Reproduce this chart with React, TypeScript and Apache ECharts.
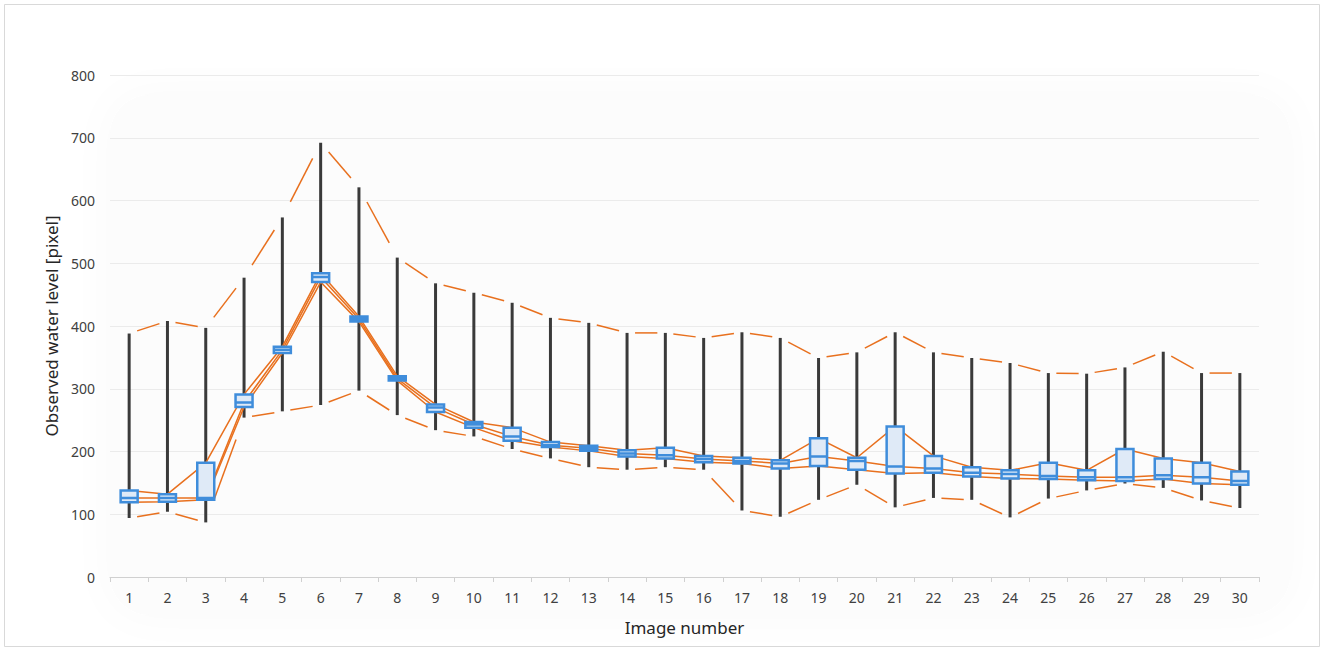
import React, { useEffect, useRef } from "react";
import * as echarts from "echarts";

const categories = Array.from({ length: 30 }, (_, i) => String(i + 1));
const maxVals = [388, 408, 397, 477, 573, 692, 621, 509, 468, 453, 437, 413, 405, 389, 389, 381, 390, 381, 349, 358, 390, 358, 349, 341, 325, 324, 334, 359, 325, 325];
const q3Vals = [138, 132, 182, 291, 367, 484, 415, 320, 275, 247, 238, 215, 209, 202, 206, 193, 190, 186, 221, 190, 240, 193, 175, 170, 182, 170, 204, 189, 182, 168];
const medVals = [126, 126, 126, 278, 362, 478, 411, 316, 270, 243, 224, 210, 205, 197, 194, 188, 185, 181, 192, 185, 176, 173, 166, 164, 161, 159, 159, 162, 159, 153];
const q1Vals = [119, 120, 123, 271, 357, 470, 407, 313, 263, 238, 217, 207, 201, 192, 189, 183, 181, 173, 177, 171, 165, 166, 160, 157, 156, 154, 153, 156, 149, 147];
const minVals = [94, 104, 87, 254, 264, 274, 297, 258, 234, 224, 204, 189, 175, 171, 175, 171, 106, 96, 123, 147, 111, 126, 123, 95, 125, 138, 149, 142, 122, 110];
const yTicks = { min: 0, max: 800, interval: 100 };

const ORANGE = "#E8701E";
const FONT = "'Noto Sans', 'Open Sans', sans-serif";

export default function App() {
  const ref = useRef<HTMLDivElement>(null);
  useEffect(() => {
    if (!ref.current) return;
    const chart = echarts.init(ref.current, null, { renderer: "svg" });
    const boxData = categories.map((_, i) => [q1Vals[i], q1Vals[i], medVals[i], q3Vals[i], q3Vals[i]]);
    const whiskerData = categories.map((_, i) => [i, minVals[i], maxVals[i]]);
    const segData = (arr: number[]) => arr.slice(0, -1).map((v, i) => [i, v, arr[i + 1]]);
    const gapSeries = (name: string, arr: number[]) => ({
      type: "custom",
      name,
      z: 3,
      encode: { x: 0, y: [1, 2] },
      data: segData(arr),
      renderItem: (params: any, api: any) => {
        const i = api.value(0);
        const p1 = api.coord([i, api.value(1)]);
        const p2 = api.coord([i + 1, api.value(2)]);
        const gap = 8;
        const dx = p2[0] - p1[0];
        const t = dx > 0 ? gap / dx : 0;
        return {
          type: "line",
          shape: {
            x1: p1[0] + t * dx,
            y1: p1[1] + t * (p2[1] - p1[1]),
            x2: p2[0] - t * dx,
            y2: p2[1] - t * (p2[1] - p1[1]),
          },
          style: { stroke: ORANGE, lineWidth: 1.5 },
        };
      },
    });
    const lineSeries = (name: string, arr: number[]) => ({
      type: "line",
      name,
      z: 3,
      data: arr,
      symbol: "none",
      lineStyle: { color: ORANGE, width: 1.5 },
    });
    chart.setOption({
      animation: false,
      backgroundColor: "#ffffff",
      graphic: [
        {
          type: "rect",
          z: -10,
          shape: { x: 4.5, y: 4.5, width: 1315, height: 642 },
          style: { fill: "#ffffff", stroke: "#d9d9d9", lineWidth: 1 },
        },
        {
          type: "rect",
          z: -9,
          shape: { x: 110, y: 95, width: 1180, height: 520, r: 40 },
          style: { fill: "#fcfcfc", shadowBlur: 40, shadowColor: "rgba(0,0,0,0.025)" },
        },
      ],
      grid: { left: 110, right: 66, top: 75, bottom: 75, containLabel: false },
      xAxis: {
        type: "category",
        data: categories,
        boundaryGap: true,
        name: "Image number",
        nameLocation: "middle",
        nameGap: 42,
        nameTextStyle: { fontSize: 17, color: "#262626", fontFamily: FONT },
        axisLine: { lineStyle: { color: "#d0d0d0", width: 1 } },
        axisTick: { show: true, length: 5, lineStyle: { color: "#d0d0d0" } },
        axisLabel: { fontSize: 14, color: "#404040", margin: 13, fontFamily: FONT },
        splitLine: { show: false },
      },
      yAxis: {
        type: "value",
        min: yTicks.min,
        max: yTicks.max,
        interval: yTicks.interval,
        name: "Observed water level [pixel]",
        nameLocation: "middle",
        nameGap: 49,
        nameRotate: 90,
        nameTextStyle: { fontSize: 17, color: "#262626", fontFamily: FONT },
        axisLine: { show: false },
        axisTick: { show: false },
        axisLabel: { fontSize: 14, color: "#404040", margin: 15, fontFamily: FONT },
        splitLine: { lineStyle: { color: "#ebebeb", width: 1 } },
      },
      series: [
        {
          type: "custom",
          name: "whisker",
          z: 2,
          encode: { x: 0, y: [1, 2] },
          data: whiskerData,
          renderItem: (params: any, api: any) => {
            const i = api.value(0);
            const a = api.coord([i, api.value(1)]);
            const b = api.coord([i, api.value(2)]);
            return {
              type: "line",
              shape: { x1: a[0], y1: a[1], x2: b[0], y2: b[1] },
              style: { stroke: "#3a3a3a", lineWidth: 3 },
            };
          },
        },
        gapSeries("max", maxVals),
        gapSeries("min", minVals),
        lineSeries("q3", q3Vals),
        lineSeries("median", medVals),
        lineSeries("q1", q1Vals),
        {
          type: "boxplot",
          name: "box",
          z: 5,
          data: boxData,
          boxWidth: [17, 17],
          itemStyle: { color: "#dfeaf7", borderColor: "#3f8ddb", borderWidth: 2.5 },
        },
      ],
    });
    return () => chart.dispose();
  }, []);
  return (
    <div
      ref={ref}
      style={{ position: "fixed", left: 0, top: 0, width: 1325, height: 652 }}
    />
  );
}
